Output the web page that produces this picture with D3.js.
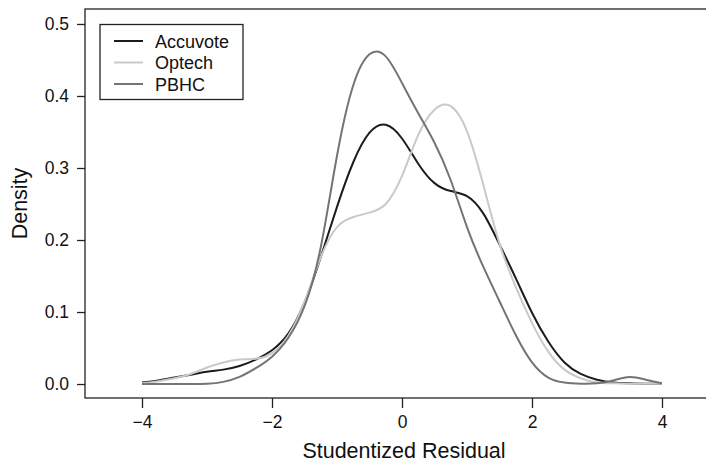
<!DOCTYPE html>
<html>
<head>
<meta charset="utf-8">
<script src="https://cdn.jsdelivr.net/npm/d3@7"></script>
<style>
  html, body { margin: 0; padding: 0; background: #fff; }
  svg { display: block; font-family: "Liberation Sans", Arial, Helvetica, sans-serif; }
</style>
</head>
<body>
<svg id="chart" width="706" height="462"></svg>
<script>
// ---- data ----
const seriesNames = ["Accuvote", "Optech", "PBHC"];
const xGrid = [-4, -3.75, -3.5, -3.25, -3, -2.75, -2.5, -2.25, -2, -1.75, -1.5, -1.25, -1, -0.75, -0.5, -0.25,
               0, 0.25, 0.5, 0.75, 1, 1.25, 1.5, 1.75, 2, 2.25, 2.5, 2.75, 3, 3.25, 3.5, 3.75, 4];
const accuvote = [0.002, 0.005, 0.009, 0.013, 0.017, 0.020, 0.025, 0.034, 0.047, 0.070, 0.113, 0.176, 0.246, 0.308, 0.349, 0.360,
                  0.341, 0.306, 0.279, 0.268, 0.261, 0.237, 0.194, 0.147, 0.099, 0.059, 0.030, 0.014, 0.006, 0.002, 0.001, 0.0005, 0.0003];
const optech   = [0.001, 0.004, 0.008, 0.014, 0.023, 0.030, 0.034, 0.035, 0.043, 0.067, 0.114, 0.176, 0.218, 0.232, 0.238, 0.250,
                  0.289, 0.346, 0.381, 0.386, 0.351, 0.277, 0.195, 0.135, 0.085, 0.045, 0.020, 0.008, 0.002, 0.001, 0.0005, 0.0005, 0.0005];
const pbhc     = [0.000, 0.000, 0.000, 0.0001, 0.0005, 0.003, 0.010, 0.022, 0.038, 0.064, 0.108, 0.190, 0.317, 0.415, 0.458, 0.455,
                  0.418, 0.376, 0.335, 0.283, 0.218, 0.163, 0.115, 0.068, 0.030, 0.009, 0.002, 0.0005, 0.001, 0.005, 0.0097, 0.006, 0.001];
const xTicks = [-4, -2, 0, 2, 4];
const yTicks = [0.0, 0.1, 0.2, 0.3, 0.4, 0.5];
const xTitle = "Studentized Residual";
const yTitle = "Density";

const seriesValues = [accuvote, optech, pbhc];
const colors = ["#1c1c1c", "#c9c9c9", "#747474"];

// ---- layout ----
const svg = d3.select("#chart");
const box = { left: 85, right: 719, top: 9, bottom: 398 };
const x = d3.scaleLinear().domain([-4.877, 4.877]).range([box.left, box.right]);
const y = d3.scaleLinear().domain([-0.0194, 0.5208]).range([box.bottom, box.top]);

// curves
const line = d3.line()
  .x(d => x(d[0]))
  .y(d => y(d[1]))
  .curve(d3.curveNatural);

const g = svg.append("g");
seriesValues.forEach((vals, i) => {
  const pts = xGrid.map((xv, k) => [xv, vals[k]]);
  g.append("path")
    .datum(pts)
    .attr("fill", "none")
    .attr("stroke", colors[i])
    .attr("stroke-width", 2)
    .attr("stroke-linejoin", "round")
    .attr("d", line);
});

// box
svg.append("rect")
  .attr("x", box.left).attr("y", box.top)
  .attr("width", box.right - box.left).attr("height", box.bottom - box.top)
  .attr("fill", "none").attr("stroke", "#222").attr("stroke-width", 1.3);

// x axis
const xAxis = d3.axisBottom(x).tickValues(xTicks).tickSize(10).tickPadding(8)
  .tickFormat(d3.format("d"));
const gx = svg.append("g").attr("transform", `translate(0,${box.bottom})`).call(xAxis);
gx.select(".domain").remove();
gx.selectAll(".tick line").attr("stroke", "#222").attr("stroke-width", 1.3);
gx.selectAll(".tick text").attr("fill", "#111").style("font-size", "17.5px")
  .style("font-family", "'Liberation Sans', Arial, sans-serif");

// y axis
const yAxis = d3.axisLeft(y).tickValues(yTicks).tickSize(8).tickPadding(8)
  .tickFormat(d3.format(".1f"));
const gy = svg.append("g").attr("transform", `translate(${box.left},0)`).call(yAxis);
gy.select(".domain").remove();
gy.selectAll(".tick line").attr("stroke", "#222").attr("stroke-width", 1.3);
gy.selectAll(".tick text").attr("fill", "#111").style("font-size", "17.5px")
  .style("font-family", "'Liberation Sans', Arial, sans-serif");

// titles
svg.append("text")
  .attr("x", 404).attr("y", 458)
  .attr("text-anchor", "middle")
  .attr("fill", "#111")
  .style("font-size", "21.5px")
  .text(xTitle);

svg.append("text")
  .attr("transform", `translate(27,${(box.top + box.bottom) / 2}) rotate(-90)`)
  .attr("text-anchor", "middle")
  .attr("fill", "#111")
  .style("font-size", "21.5px")
  .text(yTitle);

// legend
const lg = svg.append("g");
lg.append("rect")
  .attr("x", 100).attr("y", 24.5).attr("width", 143).attr("height", 75)
  .attr("fill", "#fff").attr("stroke", "#222").attr("stroke-width", 1.3);
const rowY = [41, 62.5, 84];
seriesNames.forEach((name, i) => {
  lg.append("line")
    .attr("x1", 114).attr("x2", 143)
    .attr("y1", rowY[i]).attr("y2", rowY[i])
    .attr("stroke", colors[i]).attr("stroke-width", 2);
  lg.append("text")
    .attr("x", 155).attr("y", rowY[i] + 6.5)
    .attr("fill", "#111")
    .style("font-size", "18px")
    .text(name);
});
</script>
</body>
</html>
